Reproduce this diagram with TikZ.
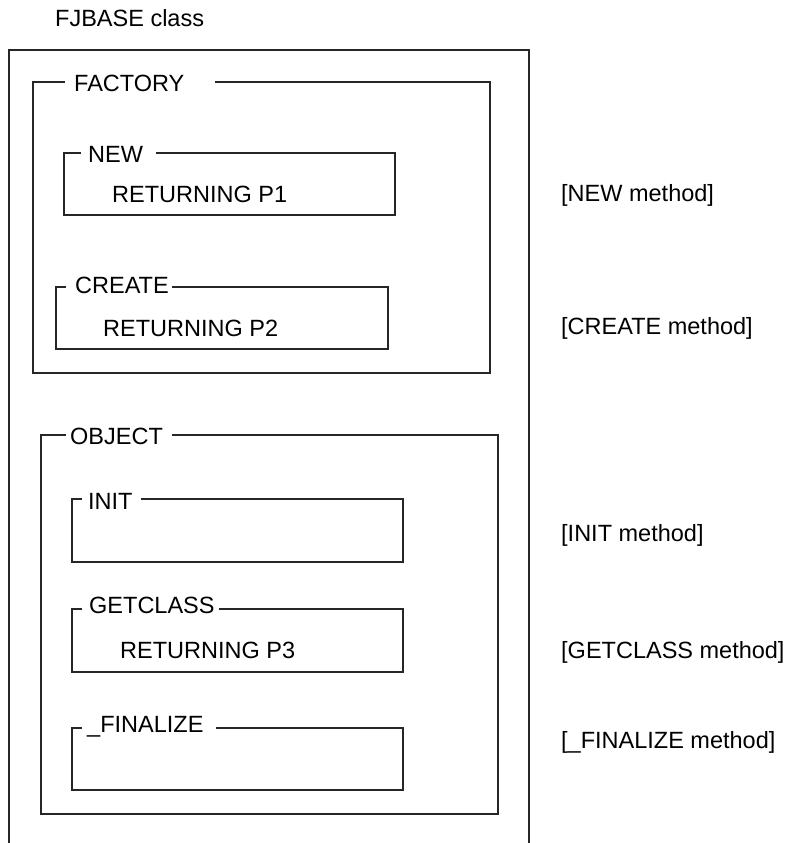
\documentclass[tikz,border=0pt]{standalone}
\usepackage{fontspec}
\setmainfont{Liberation Sans}
\begin{document}
\begin{tikzpicture}[x=1pt,y=-1pt,
  frame/.style={line width=1.4pt,draw=black!85,line join=miter},
  lbl/.style={anchor=base west,inner sep=0pt,font=\fontsize{23.5}{28}\selectfont,text=black}]
\useasboundingbox (0,0) rectangle (790,843);
% title
\node[lbl] (title) at (55,27) {FJBASE class};
% outer class box (open at bottom)
\draw[frame] (9,845) -- (9,50) -- (529,50) -- (529,845);
% FACTORY
\node[lbl] (factory) at (74,92) {FACTORY};
\draw[frame] (215,82) -- (490,82) -- (490,373) -- (33,373) -- (33,82) -- (65,82);
% NEW
\node[lbl] (new) at (88,162) {NEW};
\node[lbl] (ret1) at (112,202) {RETURNING P1};
\draw[frame] (156,153) -- (395,153) -- (395,215) -- (64,215) -- (64,153) -- (81,153);
% CREATE
\node[lbl] (create) at (75,293) {CREATE};
\node[lbl] (ret2) at (103,336) {RETURNING P2};
\draw[frame] (172,287) -- (388,287) -- (388,349) -- (56,349) -- (56,287) -- (66,287);
% OBJECT
\node[lbl] (object) at (70,444) {OBJECT};
\draw[frame] (172,435) -- (498,435) -- (498,814) -- (41,814) -- (41,435) -- (66,435);
% INIT
\node[lbl] (init) at (88,509) {INIT};
\draw[frame] (141,499) -- (403,499) -- (403,562) -- (72,562) -- (72,499) -- (82,499);
% GETCLASS
\node[lbl] (getclass) at (89,613) {GETCLASS};
\node[lbl] (ret3) at (120,658) {RETURNING P3};
\draw[frame] (219,609) -- (403,609) -- (403,672) -- (72,672) -- (72,609) -- (82,609);
% _FINALIZE
\node[lbl] (finalize) at (87,732) {\_FINALIZE};
\draw[frame] (216,728) -- (403,728) -- (403,790) -- (72,790) -- (72,728) -- (82,728);
% right-hand labels
\node[lbl] (mnew) at (561,201) {[NEW method]};
\node[lbl] (mcreate) at (561,334) {[CREATE method]};
\node[lbl] (minit) at (561,541) {[INIT method]};
\node[lbl] (mgetclass) at (561,658) {[GETCLASS method]};
\node[lbl] (mfinalize) at (561,748) {[\_FINALIZE method]};
\end{tikzpicture}
\end{document}
